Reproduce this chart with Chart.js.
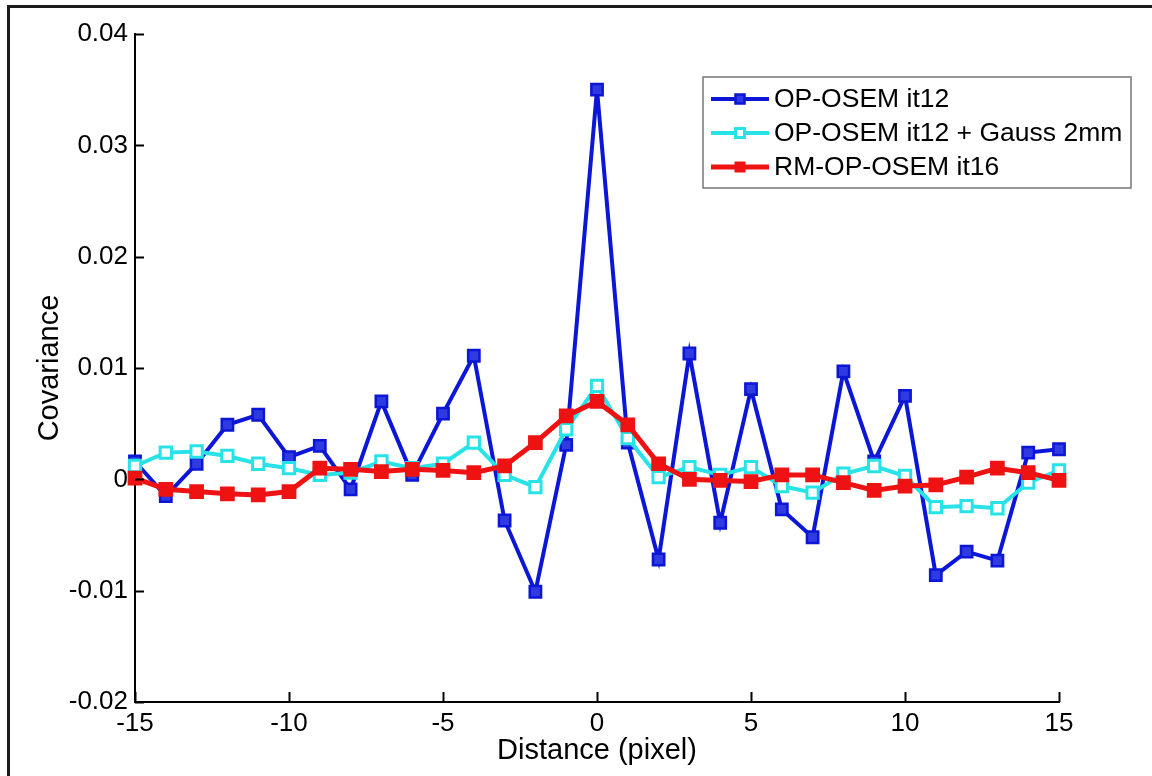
<!DOCTYPE html>
<html>
<head>
<meta charset="utf-8">
<title>Covariance profile</title>
<script src="https://cdn.jsdelivr.net/npm/chart.js@4.4.0/dist/chart.umd.min.js"></script>
<style>
  html, body { margin: 0; padding: 0; background: #fff; }
  #wrap { position: relative; width: 1152px; height: 776px; overflow: hidden; }
  #cov-chart { position: absolute; left: 0; top: 0; }
  #frame {
    position: absolute; left: 7px; top: 5px; right: -10px; bottom: -10px;
    border-left: 3px solid #1c1c1c; border-top: 3px solid #1c1c1c;
    pointer-events: none;
  }
</style>
</head>
<body>
<div id="wrap">
  <canvas id="cov-chart" width="1152" height="776"></canvas>
  <div id="frame"></div>
</div>
<script>
// distance from centre pixel
const distance = [-15, -14, -13, -12, -11, -10, -9, -8, -7, -6, -5, -4, -3, -2, -1, 0,
                  1, 2, 3, 4, 5, 6, 7, 8, 9, 10, 11, 12, 13, 14, 15];

// OP-OSEM it12
const opOsem = [0.0016, -0.0015, 0.0014, 0.0049, 0.0058, 0.0020, 0.0030, -0.0009, 0.0070, 0.0004,
                0.0059, 0.0111, -0.0037, -0.0101, 0.0031, 0.0350, 0.0033, -0.0072, 0.0113, -0.0039,
                0.0081, -0.0027, -0.0052, 0.0097, 0.0016, 0.0075, -0.0086, -0.0065, -0.0073, 0.0024, 0.0027];

// OP-OSEM it12 + Gauss 2mm
const opOsemGauss = [0.0012, 0.0024, 0.0025, 0.0021, 0.0014, 0.0010, 0.0004, 0.0006, 0.0016, 0.0010,
                     0.0014, 0.0033, 0.0004, -0.0007, 0.0045, 0.0084, 0.0037, 0.0002, 0.0011, 0.0004,
                     0.0011, -0.0006, -0.0012, 0.0005, 0.0012, 0.0003, -0.0025, -0.0024, -0.0026, -0.0003, 0.0008];

// RM-OP-OSEM it16
const rmOpOsem = [0.0001, -0.0009, -0.0011, -0.0013, -0.0014, -0.0011, 0.0010, 0.0009, 0.0007, 0.0009,
                  0.0008, 0.0006, 0.0012, 0.0033, 0.0057, 0.0070, 0.0049, 0.0014, 0.0000, -0.0001,
                  -0.0002, 0.0004, 0.0004, -0.0003, -0.0010, -0.0006, -0.0005, 0.0002, 0.0010, 0.0006, -0.0001];

const xTicks = [-15, -10, -5, 0, 5, 10, 15];
const yTicks = [-0.02, -0.01, 0, 0.01, 0.02, 0.03, 0.04];

const FONT = '"Liberation Sans", Arial, Helvetica, sans-serif';

const toPoints = vals => distance.map((d, i) => ({ x: d, y: vals[i] }));

// MATLAB-style inward tick marks
const inwardTicks = {
  id: 'inwardTicks',
  afterDraw(chart) {
    const { ctx, chartArea: a, scales: { x, y } } = chart;
    ctx.save();
    ctx.strokeStyle = '#000';
    ctx.lineWidth = 2;
    ctx.beginPath();
    yTicks.forEach(v => {
      const py = Math.round(y.getPixelForValue(v)) + 0.5;
      ctx.moveTo(a.left, py);
      ctx.lineTo(a.left + 9, py);
    });
    xTicks.forEach(v => {
      const px = Math.round(x.getPixelForValue(v)) + 0.5;
      ctx.moveTo(px, a.bottom);
      ctx.lineTo(px, a.bottom - 10);
    });
    ctx.stroke();
    ctx.restore();
  }
};

// legend box in the upper right of the axes
const boxLegend = {
  id: 'boxLegend',
  afterDraw(chart) {
    const ctx = chart.ctx;
    const left = 703, top = 77, right = 1131, bottom = 188;
    ctx.save();
    ctx.fillStyle = '#fff';
    ctx.fillRect(left, top, right - left, bottom - top);
    ctx.strokeStyle = '#777';
    ctx.lineWidth = 1.5;
    ctx.strokeRect(left, top, right - left, bottom - top);

    chart.data.datasets.forEach((ds, r) => {
      const cy = 99 + r * 34;
      ctx.strokeStyle = ds.borderColor;
      ctx.lineWidth = ds.borderWidth;
      ctx.beginPath();
      ctx.moveTo(711, cy);
      ctx.lineTo(769, cy);
      ctx.stroke();
      ctx.fillStyle = ds.pointBackgroundColor;
      ctx.strokeStyle = ds.pointBorderColor;
      ctx.lineWidth = ds.pointBorderWidth;
      ctx.beginPath();
      ctx.rect(740 - 4.5, cy - 4.5, 9, 9);
      ctx.fill();
      ctx.stroke();
      ctx.fillStyle = '#000';
      ctx.font = '26.5px ' + FONT;
      ctx.textBaseline = 'middle';
      ctx.textAlign = 'left';
      ctx.fillText(ds.label, 774, cy + 1);
    });
    ctx.restore();
  }
};

const ctx = document.getElementById('cov-chart').getContext('2d');
new Chart(ctx, {
  type: 'line',
  data: {
    datasets: [
      {
        label: 'OP-OSEM it12',
        data: toPoints(opOsem),
        borderColor: '#0b16d6',
        borderWidth: 4,
        pointStyle: 'rect',
        pointRadius: 8,
        pointBackgroundColor: '#2f3be0',
        pointBorderColor: '#0b16d6',
        pointBorderWidth: 2.5,
        order: 3,
        clip: false
      },
      {
        label: 'OP-OSEM it12 + Gauss 2mm',
        data: toPoints(opOsemGauss),
        borderColor: '#27e3e8',
        borderWidth: 4,
        pointStyle: 'rect',
        pointRadius: 8,
        pointBackgroundColor: '#ffffff',
        pointBorderColor: '#27e3e8',
        pointBorderWidth: 3,
        order: 2,
        clip: false
      },
      {
        label: 'RM-OP-OSEM it16',
        data: toPoints(rmOpOsem),
        borderColor: '#ee1212',
        borderWidth: 5,
        pointStyle: 'rect',
        pointRadius: 9,
        pointBackgroundColor: '#ee1212',
        pointBorderColor: '#ee1212',
        pointBorderWidth: 2,
        order: 1,
        clip: false
      }
    ]
  },
  options: {
    responsive: false,
    animation: false,
    events: [],
    layout: { padding: { left: 0, top: 34, right: 93, bottom: 0 } },
    plugins: { legend: { display: false }, tooltip: { enabled: false } },
    scales: {
      x: {
        type: 'linear',
        min: -15,
        max: 15,
        afterBuildTicks: s => { s.ticks = xTicks.map(v => ({ value: v })); },
        afterFit: s => { s.height = 74; },
        grid: { display: false, drawTicks: false },
        border: { display: true, color: '#000', width: 2 },
        ticks: {
          color: '#000',
          padding: 6,
          maxRotation: 0,
          font: { family: FONT, size: 26 },
          callback: v => String(v)
        },
        title: {
          display: true,
          text: 'Distance (pixel)',
          color: '#000',
          font: { family: FONT, size: 29 },
          padding: { top: 0, bottom: 8 }
        }
      },
      y: {
        type: 'linear',
        min: -0.02,
        max: 0.04,
        afterBuildTicks: s => { s.ticks = yTicks.map(v => ({ value: v })); },
        afterFit: s => { s.width = 135; },
        grid: { display: false, drawTicks: false },
        border: { display: true, color: '#000', width: 2 },
        ticks: {
          color: '#000',
          padding: 7,
          font: { family: FONT, size: 26 },
          callback: v => String(Number(v.toFixed(3)))
        },
        title: {
          display: true,
          text: 'Covariance',
          color: '#000',
          font: { family: FONT, size: 29 },
          padding: { top: 33, bottom: 0 }
        }
      }
    }
  },
  plugins: [inwardTicks, boxLegend]
});
</script>
</body>
</html>
